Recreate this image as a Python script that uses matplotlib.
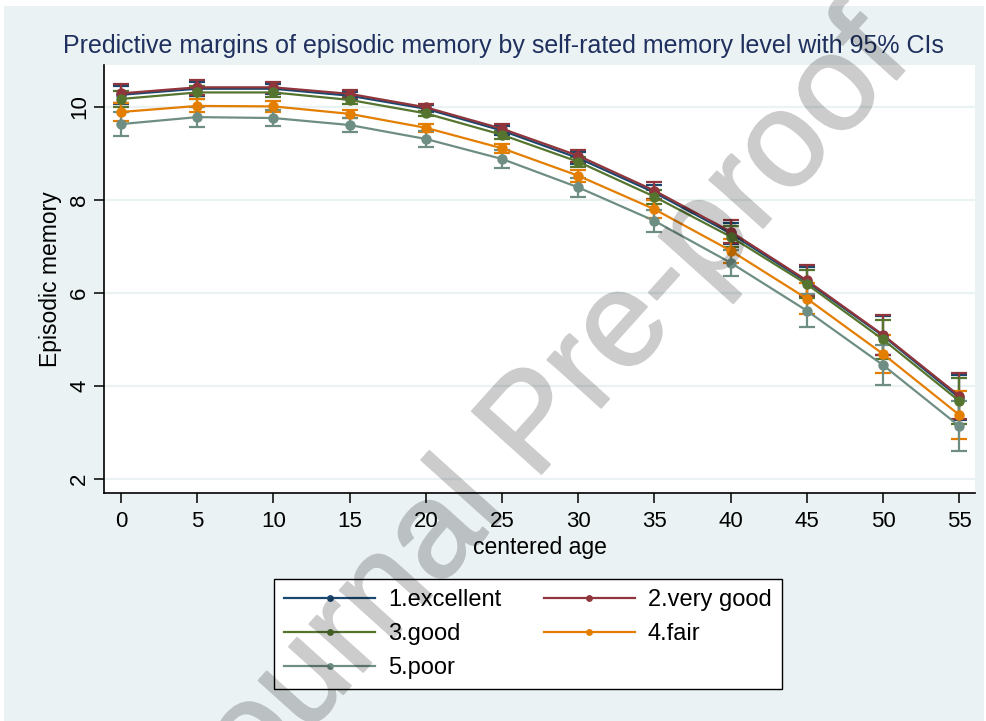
import matplotlib
matplotlib.use("Agg")
import matplotlib.pyplot as plt
import matplotlib.patheffects as pe
from matplotlib.patches import Rectangle

plt.rcParams['font.family'] = ['Liberation Sans', 'DejaVu Sans']

# centered age
ages = [0, 5, 10, 15, 20, 25, 30, 35, 40, 45, 50, 55]

# predictive margins by self-rated memory level
excellent = [10.26, 10.39, 10.39, 10.24, 9.96, 9.49, 8.90, 8.16, 7.28, 6.24, 5.08, 3.75]
very_good = [10.29, 10.42, 10.42, 10.28, 9.99, 9.53, 8.95, 8.20, 7.32, 6.27, 5.10, 3.79]
good      = [10.17, 10.31, 10.31, 10.15, 9.86, 9.40, 8.82, 8.07, 7.21, 6.19, 5.00, 3.68]
fair      = [9.89, 10.02, 10.01, 9.85, 9.55, 9.11, 8.52, 7.80, 6.91, 5.88, 4.69, 3.38]
poor      = [9.63, 9.78, 9.76, 9.61, 9.31, 8.88, 8.27, 7.55, 6.65, 5.62, 4.45, 3.14]

# half widths of the 95% CIs
ci_excellent = [0.19, 0.15, 0.11, 0.08, 0.07, 0.09, 0.12, 0.17, 0.23, 0.32, 0.42, 0.49]
ci_very_good = [0.20, 0.16, 0.12, 0.09, 0.07, 0.10, 0.13, 0.18, 0.24, 0.33, 0.43, 0.50]
ci_good      = [0.18, 0.14, 0.10, 0.08, 0.06, 0.08, 0.11, 0.15, 0.22, 0.30, 0.42, 0.49]
ci_fair      = [0.20, 0.14, 0.11, 0.08, 0.08, 0.10, 0.13, 0.19, 0.26, 0.33, 0.40, 0.51]
ci_poor      = [0.25, 0.21, 0.17, 0.16, 0.17, 0.19, 0.20, 0.24, 0.28, 0.35, 0.43, 0.53]

labels = ["1.excellent", "2.very good", "3.good", "4.fair", "5.poor"]
series = [excellent, very_good, good, fair, poor]
cis = [ci_excellent, ci_very_good, ci_good, ci_fair, ci_poor]
colors = ["#1A476F", "#90353B", "#55752F", "#E37E00", "#6E8E84"]

bg = "#EAF2F3"

fig = plt.figure(figsize=(9.86, 7.21), dpi=100, facecolor="white")
fig.patches.append(Rectangle((4/986, 0), 980/986, 715/721, transform=fig.transFigure,
                             facecolor=bg, edgecolor="none", zorder=-10))

ax = fig.add_axes([104/986, 1 - 493/721, (975 - 104)/986, (493 - 65)/721])
ax.set_facecolor("white")

handles = []
for y, e, c, lab in zip(series, cis, colors, labels):
    ax.errorbar(ages, y, yerr=e, fmt="none", ecolor=c, elinewidth=1.6,
                capsize=5.8, capthick=1.6, zorder=3)
    h, = ax.plot(ages, y, "-o", color=c, lw=1.6, ms=6.5, label=lab, zorder=4)
    handles.append(h)

ax.set_xlim(-1.12, 56.04)
ax.set_ylim(1.70, 10.90)
ax.set_xticks(ages)
ax.set_yticks([2, 4, 6, 8, 10])
ax.grid(axis="y", color=bg, lw=1.6)
ax.set_axisbelow(True)
for s in ["top", "right"]:
    ax.spines[s].set_visible(False)
for s in ["left", "bottom"]:
    ax.spines[s].set_linewidth(1.2)
ax.tick_params(axis="both", direction="out", length=7, width=1.1, labelsize=16)
ax.tick_params(axis="x", pad=6)
ax.tick_params(axis="y", pad=3)
plt.setp(ax.get_yticklabels(), rotation=90, va="center")
ax.set_xlabel("centered age", fontsize=16.5, labelpad=3)
ax.set_ylabel("Episodic memory", fontsize=16.5, labelpad=5)

fig.text(503/986, 1 - 46/721, "Predictive margins of episodic memory by self-rated memory level with 95% CIs",
         ha="center", va="center", fontsize=18, color="#1F2F5E")

# Stata fills the legend row by row; matplotlib fills columns, so reorder
order = [0, 2, 4, 1, 3]
leg = fig.legend([handles[i] for i in order], [labels[i] for i in order],
                 loc="center", bbox_to_anchor=(528/986, 1 - 634/721),
                 ncol=2, fontsize=17, frameon=True, fancybox=False, edgecolor="black",
                 facecolor="white", framealpha=1,
                 numpoints=1, markerscale=0.6, handlelength=3.85, handletextpad=0.55,
                 columnspacing=1.8, labelspacing=0.5, borderpad=0.45, borderaxespad=0)
leg.get_frame().set_linewidth(1.0)


# watermark: drawn opaque with a thin outline, then faded as a whole
def fade(img, dpi):
    img = img.copy()
    img[..., 3] *= 0.2
    return img, 0, 0


wm = fig.text(210/986, 1 - 842/721, "Journal Pre-proof", fontsize=98, color="black",
              rotation=48, ha="left", va="baseline", rotation_mode="anchor", zorder=20)
wm.set_path_effects([pe.Stroke(linewidth=1.5, foreground="black"), pe.Normal()])
wm.set_agg_filter(fade)

fig.savefig("out.png", dpi=100, facecolor=fig.get_facecolor())
